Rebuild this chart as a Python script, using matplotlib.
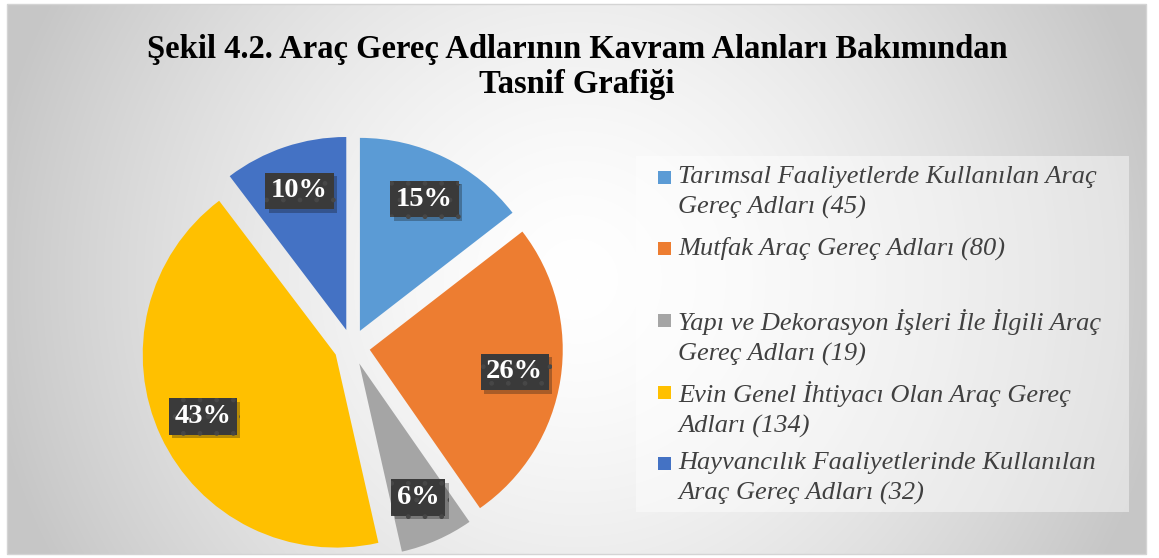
import numpy as np
import matplotlib
matplotlib.use("Agg")
import matplotlib.pyplot as plt
from matplotlib.patches import Rectangle
import matplotlib.patheffects as pe

# veri
kategoriler = [
    "Tarımsal Faaliyetlerde Kullanılan Araç\nGereç Adları (45)",
    "Mutfak Araç Gereç Adları (80)",
    "Yapı ve Dekorasyon İşleri İle İlgili Araç\nGereç Adları (19)",
    "Evin Genel İhtiyacı Olan Araç Gereç\nAdları (134)",
    "Hayvancılık Faaliyetlerinde Kullanılan\nAraç Gereç Adları (32)",
]
degerler = [45, 80, 19, 134, 32]
renkler = ["#5B9BD5", "#ED7D31", "#A5A5A5", "#FFC000", "#4472C4"]
baslik = "Şekil 4.2. Araç Gereç Adlarının Kavram Alanları Bakımından\nTasnif Grafiği"

W, H = 1159, 558
fig = plt.figure(figsize=(W / 100, H / 100), dpi=100)

# arka plan (radyal gri gecis)
bg = fig.add_axes([0, 0, 1, 1])
yy, xx = np.mgrid[0:H, 0:W]
d = np.hypot(xx - 577, yy - 279) / 600
v = 255 - 57 * np.clip(d, 0, 1) ** 1.5
disari = (xx < 7) | (xx > 1146) | (yy < 4) | (yy > 554)
v[disari] = 255
img = np.dstack([v, v, v]) / 255
bg.imshow(img, extent=(0, W, H, 0), aspect="auto", interpolation="bilinear")
bg.add_patch(Rectangle((7, 4), 1139, 550, fill=False, ec="#d4d4d4", lw=1))
bg.set_xlim(0, W)
bg.set_ylim(H, 0)
bg.axis("off")

# baslik
fig.text(577 / W, 1 - 67 / H, baslik, ha="center", va="center",
         fontsize=23.5, fontweight="bold", family="Liberation Serif",
         color="black", linespacing=1.15)

# pasta
R = 193.0
cx, cy = 352, H - 347
yar = 260
ax = fig.add_axes([(cx - yar) / W, (cy - yar) / H, 2 * yar / W, 2 * yar / H])
wedges, texts, autotexts = ax.pie(
    degerler, colors=renkler, startangle=90, counterclock=False,
    explode=[0.093] * len(degerler), autopct=lambda p: f"{p:.0f}%",
    pctdistance=0.76, wedgeprops=dict(linewidth=0),
    textprops=dict(color="white", fontsize=20.5, fontweight="bold",
                   family="Liberation Serif"))
ax.set_xlim(-yar / R, yar / R)
ax.set_ylim(-yar / R, yar / R)
ax.axis("off")

for t in autotexts:
    t.set_bbox(dict(boxstyle="square,pad=0.2", fc="#3a3a3a", ec="#474747",
                    lw=0, hatch="."))
    t.get_bbox_patch().set_path_effects(
        [pe.SimplePatchShadow(offset=(2.5, -2.5), alpha=0.3), pe.Normal()])

# lejant
bg.add_patch(Rectangle((636, 156), 493, 356, fc="white", ec="none", alpha=0.45))
satir_y = [177, 248, 320, 392, 463]
for lab, c, y in zip(kategoriler, renkler, satir_y):
    bg.add_patch(Rectangle((658, y - 6.5), 13, 13, fc=c, ec="none"))
    bg.text(678, y - 11, lab, ha="left", va="top", fontsize=19,
            style="italic", family="Liberation Serif", color="#404040",
            linespacing=1.45)

fig.savefig("out.png", dpi=100)
